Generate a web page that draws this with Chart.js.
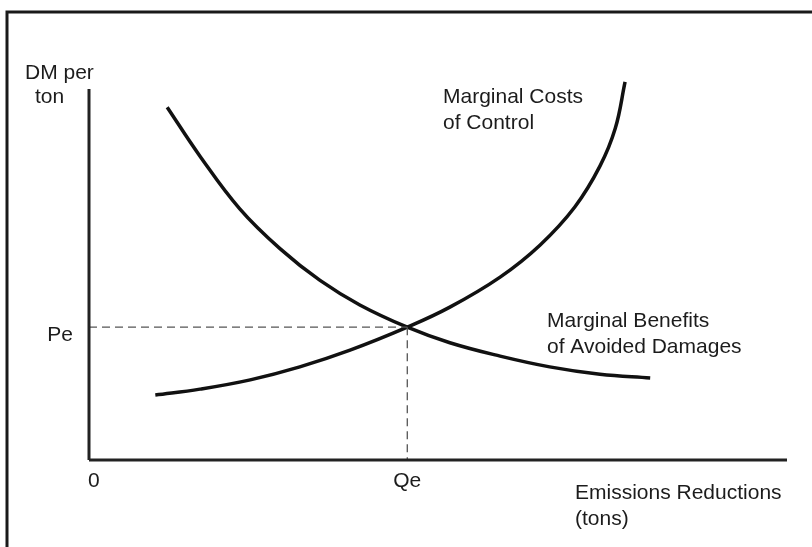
<!DOCTYPE html>
<html>
<head>
<meta charset="utf-8">
<script src="https://cdn.jsdelivr.net/npm/chart.js@4/dist/chart.umd.min.js"></script>
<style>
  html, body { margin: 0; padding: 0; background: #fff; }
  #wrap { width: 812px; height: 547px; position: relative; }
</style>
</head>
<body>
<div id="wrap"><canvas id="c"></canvas></div>
<script>
// ---- data ----
const mcX = [9.5, 15.9, 23.1, 30.2, 37.4, 45.6, 51.7, 58.9, 64.6, 69.6, 73.2, 75.4, 76.8];
const mcY = [17.5, 19.1, 21.6, 25.1, 29.6, 35.8, 41.2, 49.3, 57.9, 68.2, 79.2, 89.4, 101.9];
const mbX = [11.2, 15.9, 21.6, 27.4, 33.1, 38.8, 45.6, 51.7, 58.9, 66.0, 73.2, 80.4];
const mbY = [95.1, 81.9, 67.7, 56.9, 48.4, 41.8, 35.8, 31.6, 28.0, 25.1, 23.1, 22.1];
const QE = 45.6;
const PE = 35.8;
const xTickLabels = ["0", "Qe"];
const yTickLabels = ["Pe"];
const yTitle = ["DM per", "ton"];
const xTitle = ["Emissions Reductions", "(tons)"];
const mcLabel = ["Marginal Costs", "of Control"];
const mbLabel = ["Marginal Benefits", "of Avoided Damages"];

const pts = (xs, ys) => xs.map((x, i) => ({ x: x, y: ys[i] }));

const FONT = '21px "Liberation Sans", Arial, sans-serif';
const TXT = '#1c1c1c';

const decor = {
  id: 'decor',
  beforeDraw(chart) {
    const ctx = chart.ctx;
    ctx.save();
    ctx.fillStyle = '#fff';
    ctx.fillRect(0, 0, chart.width, chart.height);
    // scanned page frame
    ctx.strokeStyle = '#1a1a1a';
    ctx.lineWidth = 3;
    ctx.beginPath();
    ctx.moveTo(7, chart.height);
    ctx.lineTo(7, 12);
    ctx.lineTo(chart.width, 12);
    ctx.stroke();
    ctx.restore();
  },
  afterDraw(chart) {
    const ctx = chart.ctx;
    const xs = chart.scales.x, ys = chart.scales.y;
    const x0 = xs.getPixelForValue(0), y0 = ys.getPixelForValue(0);
    ctx.save();
    ctx.fillStyle = TXT;
    ctx.font = FONT;
    ctx.textBaseline = 'alphabetic';
    // tick labels
    ctx.textAlign = 'left';
    ctx.fillText(xTickLabels[0], x0 - 1, y0 + 27);
    ctx.textAlign = 'center';
    ctx.fillText(xTickLabels[1], xs.getPixelForValue(QE), y0 + 27);
    ctx.textAlign = 'right';
    ctx.fillText(yTickLabels[0], x0 - 16, ys.getPixelForValue(PE) + 14);
    // axis titles
    ctx.textAlign = 'left';
    ctx.fillText(yTitle[0], 25, 79);
    ctx.fillText(yTitle[1], 35, 103);
    ctx.fillText(xTitle[0], 575, 499);
    ctx.fillText(xTitle[1], 575, 525);
    // curve labels
    ctx.fillText(mcLabel[0], 443, 103);
    ctx.fillText(mcLabel[1], 443, 129);
    ctx.fillText(mbLabel[0], 547, 327);
    ctx.fillText(mbLabel[1], 547, 353);
    ctx.restore();
  }
};

new Chart(document.getElementById('c'), {
  type: 'scatter',
  data: {
    datasets: [
      { label: 'y axis', data: [{x: 0, y: 0}, {x: 0, y: 100}], showLine: true, borderColor: '#222', borderWidth: 3, pointRadius: 0, clip: false },
      { label: 'x axis', data: [{x: 0, y: 0}, {x: 100, y: 0}], showLine: true, borderColor: '#222', borderWidth: 3, pointRadius: 0, clip: false },
      { label: 'Pe', data: [{x: 0, y: PE}, {x: QE, y: PE}], showLine: true, borderColor: '#555', borderWidth: 1.3, borderDash: [8, 5], pointRadius: 0, clip: false },
      { label: 'Qe', data: [{x: QE, y: PE}, {x: QE, y: 0}], showLine: true, borderColor: '#555', borderWidth: 1.3, borderDash: [8, 5], pointRadius: 0, clip: false },
      { label: 'Marginal Costs of Control', data: pts(mcX, mcY), showLine: true, borderColor: '#111', borderWidth: 3.5, pointRadius: 0, tension: 0.4, clip: false },
      { label: 'Marginal Benefits of Avoided Damages', data: pts(mbX, mbY), showLine: true, borderColor: '#111', borderWidth: 3.5, pointRadius: 0, tension: 0.4, clip: false }
    ]
  },
  options: {
    responsive: true,
    maintainAspectRatio: false,
    animation: false,
    layout: { padding: { left: 89, right: 25, top: 89, bottom: 87 } },
    scales: {
      x: { type: 'linear', min: 0, max: 100, display: false },
      y: { type: 'linear', min: 0, max: 100, display: false }
    },
    plugins: { legend: { display: false }, tooltip: { enabled: false } }
  },
  plugins: [decor]
});
</script>
</body>
</html>
